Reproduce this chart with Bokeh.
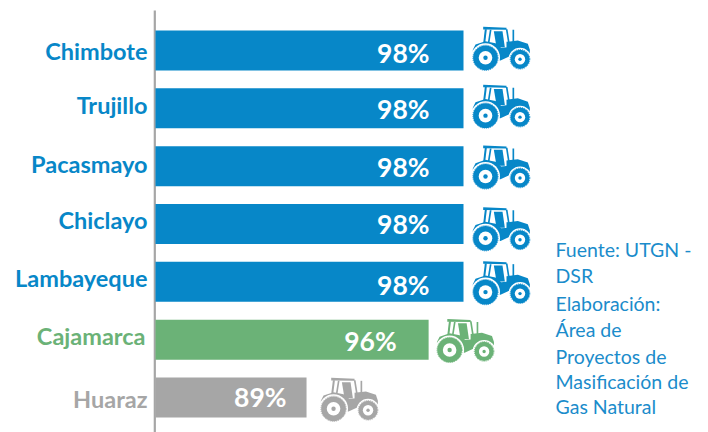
from bokeh.plotting import figure
from bokeh.models import Range1d, Label
from bokeh.core.properties import value
from bokeh.embed import file_html
from bokeh.resources import INLINE

categories = ["Chimbote", "Trujillo", "Pacasmayo", "Chiclayo", "Lambayeque", "Cajamarca", "Huaraz"]
values = [98, 98, 98, 98, 98, 96, 89]
BLUE, GREEN, GRAY = "#0787C8", "#6BB277", "#A6A6A6"
colors = [BLUE] * 5 + [GREEN, GRAY]
pct_labels = ["98%"] * 5 + ["96%", "89%"]
footnote = ["Fuente: UTGN -", "DSR", "Elaboración:", "Área de", "Proyectos de", "Masificación de", "Gas Natural"]
foot_y = [249, 275, 303, 329, 356, 381, 406]

# small per-row placement nudges (px)
label_dy = [0, -3, -2, -4, -4, -4, 2]
label_dx = [0, 0, 0, 0, 0, -2, 0]
pct_dx = [-34, -34, -34, -34, -34, -32, -20]
pct_dy = [2, 1, 1, 0, 3, 1, 0]
tr_dx = [0, 0, 0, 0, 0, -1, 5]
tr_dy = [0, 0, 3, 7, 3, 3, 4]

W, H = 708, 432
PX_X, PX_Y = 17.44, 57.83
BASE = 80.34
x0 = 98 - 463 / PX_X
y_top = -50 / PX_Y
xr = Range1d(x0, x0 + W / PX_X)
yr = Range1d(y_top + H / PX_Y, y_top)

p = figure(width=W, height=H, x_range=xr, y_range=yr, output_backend="svg", toolbar_location=None,
           min_border=0, outline_line_color=None)
p.axis.visible = False
p.grid.visible = False

rows = list(range(len(values)))
p.segment(x0=[BASE - 0.7 / PX_X], y0=[y_top + 10 / PX_Y], x1=[BASE - 0.7 / PX_X], y1=[y_top + H / PX_Y],
          line_color="#A6A6A6", line_width=2.2)
p.hbar(y=rows, left=BASE, right=values, height=40 / PX_Y, color=colors, line_color=None)

p.text(x=[BASE] * 7, y=rows, text=categories, text_color=colors, text_font=value("Lato"), text_font_style="bold",
       text_font_size="23.5px", text_align="right", text_baseline="middle",
       x_offset=[-8 + d for d in label_dx], y_offset=label_dy)
p.text(x=values, y=rows, text=pct_labels, text_color="white", text_font=value("Lato"), text_font_style="bold",
       text_font_size="26.5px", text_align="right", text_baseline="middle", x_offset=pct_dx, y_offset=pct_dy)

# Tractor icon: outline given in icon units (3 units = 1 px), origin at bar end / bar centre
ICON = [
    [(198, 94), (232, 90), (262, 100), (268, 118), (268, 130), (198, 136)],
    [(97, 118), (105, 102), (135, 92), (165, 98), (182, 112), (206, 110), (206, 138), (180, 150), (97, 150)],
    [(128, 49), (198, 52), (198, 58), (128, 57)],
    [(160, 62), (186, 62), (193, 110), (168, 110)],
    [(133, 56), (139, 56), (134, 98), (128, 98)],
    [(148, 58), (153, 58), (147, 96), (142, 96)],
    [(196, 56), (201, 56), (208, 100), (203, 100)],
    [(216, 58), (221, 58), (221, 122), (216, 122)],
]
xs, ys, cs = [], [], []
for i, (v, c) in enumerate(zip(values, colors)):
    for poly in ICON:
        xs.append([v + ((a - 69) / 3 + tr_dx[i]) / PX_X for a, b in poly])
        ys.append([i + ((b - 120) / 3 + tr_dy[i]) / PX_Y for a, b in poly])
        cs.append(c)
p.patches(xs, ys, fill_color=cs, line_color=None)

def wheel(dx, dy, r_gap, r_tire, r_white, r_hub):
    wx = [v + (dx + tr_dx[i]) / PX_X for i, v in enumerate(values)]
    wy = [i + (dy + tr_dy[i]) / PX_Y for i in rows]
    p.scatter(wx, wy, size=2 * r_gap, color="white", line_color=None)
    p.scatter(wx, wy, size=2 * r_tire - 0.8, color=colors, line_color=None)
    p.scatter(wx, wy, size=2 * r_tire - 0.4, fill_color=None, line_color=colors, line_width=0.9, line_dash="1 1")
    p.scatter(wx, wy, size=2 * r_white, color="white", line_color=None)
    p.scatter(wx, wy, size=2 * r_hub, color=colors, line_color=None)

wheel(22, 7.3, 14.5, 12.8, 6.8, 2.2)
wheel(56.5, 8.8, 11.5, 10, 5.2, 1.7)

for line, yy in zip(footnote, foot_y):
    p.add_layout(Label(x=555, y=H - yy, x_units="screen", y_units="screen", text=line, text_color="#1B8CCB",
                       text_font="Lato", text_font_size="19.5px", text_baseline="middle"))

open("out.html", "w").write(file_html(p, INLINE))
